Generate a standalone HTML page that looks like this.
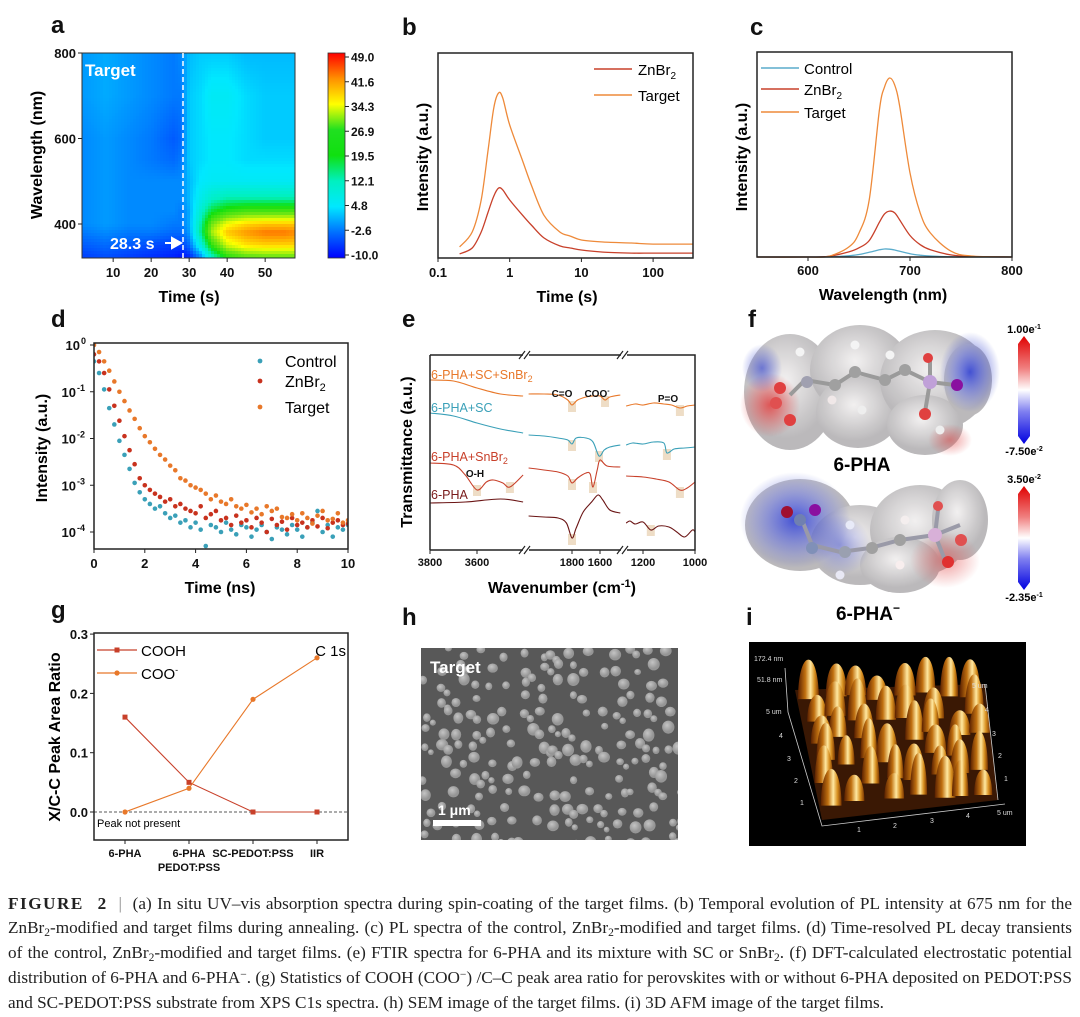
<!DOCTYPE html>
<html><head><meta charset="utf-8">
<style>
html,body{margin:0;padding:0;background:#fff;}
#root{position:relative;width:1080px;height:1017px;overflow:hidden;background:#fff;}
svg text{font-family:"Liberation Sans",Arial,sans-serif;}
.cap{position:absolute;left:8px;width:1064px;font-family:"Liberation Serif","Times New Roman",serif;font-size:17.2px;color:#222;white-space:nowrap;text-align:justify;text-align-last:justify;height:25px;line-height:25px;}
.cap sub{font-size:11.5px;vertical-align:-3px;line-height:0;}
.cap sup{font-size:11.5px;vertical-align:5px;line-height:0;}
</style></head>
<body>
<div id="root">
<svg id="fig" width="1080" height="890" viewBox="0 0 1080 890" xmlns="http://www.w3.org/2000/svg" style="position:absolute;left:0;top:0">
<defs>
 <linearGradient id="cbarA" x1="0" y1="0" x2="0" y2="1">
  <stop offset="0" stop-color="#ff0000"/><stop offset="0.125" stop-color="#ff9000"/>
  <stop offset="0.25" stop-color="#ffff00"/><stop offset="0.375" stop-color="#20e020"/>
  <stop offset="0.5" stop-color="#10e010"/><stop offset="0.625" stop-color="#00f0c0"/>
  <stop offset="0.75" stop-color="#00e8ff"/><stop offset="0.875" stop-color="#0070ff"/>
  <stop offset="1" stop-color="#0000ff"/>
 </linearGradient>
 <linearGradient id="esp" x1="0" y1="0" x2="0" y2="1">
  <stop offset="0" stop-color="#e00000"/><stop offset="0.3" stop-color="#f08080"/>
  <stop offset="0.5" stop-color="#ffffff"/><stop offset="0.7" stop-color="#8080f0"/>
  <stop offset="1" stop-color="#0000e0"/>
 </linearGradient>
 <radialGradient id="redGlow"><stop offset="0" stop-color="#e04040" stop-opacity="0.85"/><stop offset="1" stop-color="#e04040" stop-opacity="0"/></radialGradient>
 <radialGradient id="blueGlow"><stop offset="0" stop-color="#3040d0" stop-opacity="0.9"/><stop offset="1" stop-color="#3040d0" stop-opacity="0"/></radialGradient>
 <radialGradient id="blob" cx="0.45" cy="0.4"><stop offset="0" stop-color="#f2f0f0"/><stop offset="1" stop-color="#b8b6b8"/></radialGradient>
 <radialGradient id="semDot" cx="0.4" cy="0.35"><stop offset="0" stop-color="#c4c4c4"/><stop offset="1" stop-color="#959595"/></radialGradient>
 <linearGradient id="peakG" x1="0" y1="0" x2="1" y2="0">
  <stop offset="0" stop-color="#5a2000"/><stop offset="0.35" stop-color="#c07010"/>
  <stop offset="0.6" stop-color="#ffe8a0"/><stop offset="0.8" stop-color="#d89020"/>
  <stop offset="1" stop-color="#7a3500"/>
 </linearGradient>
 <clipPath id="clipA"><rect x="82" y="53" width="213" height="205"/></clipPath>
 <clipPath id="clipD"><rect x="94" y="343" width="254" height="206"/></clipPath>
 <clipPath id="clipH"><rect x="421" y="648" width="257" height="192"/></clipPath>
</defs>

<g font-weight="bold" font-size="24" fill="#111">
 <text x="51" y="33">a</text><text x="402" y="35">b</text><text x="750" y="35">c</text>
 <text x="51" y="327">d</text><text x="402" y="327">e</text><text x="748" y="327">f</text>
 <text x="51" y="618">g</text><text x="402" y="625">h</text><text x="746" y="625">i</text>
</g>

<!-- Panel a -->
<g id="pa">
 <g id="heat" clip-path="url(#clipA)"></g>
 <rect x="82" y="53" width="213" height="205" fill="none" stroke="#333" stroke-width="1"/>
 <line x1="183" y1="53" x2="183" y2="258" stroke="#fff" stroke-width="1.5" stroke-dasharray="5,3"/>
 <text x="85" y="76" fill="#fff" font-size="17" font-weight="bold">Target</text>
 <text x="110" y="249" fill="#fff" font-size="16" font-weight="bold">28.3 s</text>
 <path d="M165 243 L176 243 M172 238 L181 243 L172 248 Z" stroke="#fff" fill="#fff" stroke-width="2"/>
 <g id="axA" font-size="13" font-weight="bold" fill="#111"></g>
 <text transform="translate(42,155) rotate(-90)" text-anchor="middle" font-size="16" font-weight="bold">Wavelength (nm)</text>
 <text x="189" y="302" text-anchor="middle" font-size="16" font-weight="bold">Time (s)</text>
 <rect x="328" y="53" width="17" height="205" fill="url(#cbarA)" stroke="#333" stroke-width="0.8"/>
 <g id="cbA" font-size="12" font-weight="bold" fill="#111"></g>
</g>

<!-- Panel b -->
<g id="pb">
 <g id="axB" font-size="13" font-weight="bold" fill="#111"></g>
 <g id="linesB"></g>
 <rect x="438" y="53" width="255" height="205" fill="none" stroke="#222" stroke-width="1.5"/>
 <text transform="translate(428,157) rotate(-90)" text-anchor="middle" font-size="16" font-weight="bold">Intensity (a.u.)</text>
 <text x="567" y="302" text-anchor="middle" font-size="16" font-weight="bold">Time (s)</text>
 <g font-size="15">
  <line x1="594" y1="69" x2="632" y2="69" stroke="#c8402a" stroke-width="1.5"/>
  <text x="638" y="75">ZnBr<tspan font-size="10" dy="4">2</tspan></text>
  <line x1="594" y1="95" x2="632" y2="95" stroke="#ee8a3a" stroke-width="1.5"/>
  <text x="638" y="101">Target</text>
 </g>
</g>

<!-- Panel c -->
<g id="pc">
 <g id="axC" font-size="13" font-weight="bold" fill="#111"></g>
 <g id="linesC"></g>
 <rect x="757" y="52" width="255" height="205" fill="none" stroke="#222" stroke-width="1.5"/>
 <text transform="translate(747,157) rotate(-90)" text-anchor="middle" font-size="16" font-weight="bold">Intensity (a.u.)</text>
 <text x="883" y="300" text-anchor="middle" font-size="16" font-weight="bold">Wavelength (nm)</text>
 <g font-size="15">
  <line x1="761" y1="68" x2="799" y2="68" stroke="#5aaccc" stroke-width="1.5"/>
  <text x="804" y="74">Control</text>
  <line x1="761" y1="89" x2="799" y2="89" stroke="#c8402a" stroke-width="1.5"/>
  <text x="804" y="95">ZnBr<tspan font-size="10" dy="4">2</tspan></text>
  <line x1="761" y1="112" x2="799" y2="112" stroke="#ee8a3a" stroke-width="1.5"/>
  <text x="804" y="118">Target</text>
 </g>
</g>

<!-- Panel d -->
<g id="pd">
 <g id="axD" font-size="13" font-weight="bold" fill="#111"></g>
 <g id="dotsD" clip-path="url(#clipD)"></g>
 <rect x="94" y="343" width="254" height="206" fill="none" stroke="#222" stroke-width="1.5"/>
 <text transform="translate(47,448) rotate(-90)" text-anchor="middle" font-size="16" font-weight="bold">Intensity (a.u.)</text>
 <text x="220" y="593" text-anchor="middle" font-size="16" font-weight="bold">Time (ns)</text>
 <g font-size="16">
  <circle cx="260" cy="361" r="2.4" fill="#3aa0b8"/>
  <text x="285" y="367">Control</text>
  <circle cx="260" cy="381" r="2.4" fill="#c8321e"/>
  <text x="285" y="387">ZnBr<tspan font-size="11" dy="4">2</tspan></text>
  <circle cx="260" cy="407" r="2.4" fill="#e8782a"/>
  <text x="285" y="413">Target</text>
 </g>
</g>

<!-- Panel e -->
<g id="pe">
 <g id="boxesE"></g>
 <g id="linesE"></g>
 <path d="M430 355 H523 M529 355 H621 M627 355 H695 V550 H627 M621 550 H529 M523 550 H430 Z" fill="none" stroke="#222" stroke-width="1.5"/>
 <line x1="430" y1="355" x2="430" y2="550" stroke="#222" stroke-width="1.5"/>
 <g stroke="#222" stroke-width="1.2">
  <path d="M519 359 L525 351 M524 359 L530 351 M617 359 L623 351 M622 359 L628 351"/>
  <path d="M519 554 L525 546 M524 554 L530 546 M617 554 L623 546 M622 554 L628 546"/>
 </g>
 <g id="axE" font-size="11" font-weight="bold" fill="#111"></g>
 <text transform="translate(412,452) rotate(-90)" text-anchor="middle" font-size="16" font-weight="bold">Transmittance (a.u.)</text>
 <text x="562" y="593" text-anchor="middle" font-size="16" font-weight="bold">Wavenumber (cm<tspan font-size="11" dy="-6">-1</tspan><tspan dy="6">)</tspan></text>
 <g font-size="12.5">
  <text x="431" y="379" fill="#e8782a">6-PHA+SC+SnBr<tspan font-size="9" dy="3">2</tspan></text>
  <text x="431" y="412" fill="#3aa0b8">6-PHA+SC</text>
  <text x="431" y="461" fill="#c8402a">6-PHA+SnBr<tspan font-size="9" dy="3">2</tspan></text>
  <text x="431" y="499" fill="#7a1a1a">6-PHA</text>
 </g>
 <g font-size="10" font-weight="bold" fill="#111">
  <text x="475" y="477" text-anchor="middle">O-H</text>
  <text x="562" y="397" text-anchor="middle">C=O</text>
  <text x="597" y="397" text-anchor="middle">COO<tspan font-size="7" dy="-4">-</tspan></text>
  <text x="668" y="402" text-anchor="middle">P=O</text>
 </g>
</g>

<!-- Panel f -->
<g id="pf">
 <g>
  <g fill="url(#blob)" opacity="0.95">
   <ellipse cx="790" cy="392" rx="46" ry="58"/><ellipse cx="860" cy="370" rx="50" ry="45"/>
   <ellipse cx="858" cy="412" rx="42" ry="36"/><ellipse cx="935" cy="380" rx="55" ry="50"/>
   <ellipse cx="925" cy="425" rx="38" ry="30"/><ellipse cx="968" cy="380" rx="24" ry="36"/>
  </g>
  <ellipse cx="770" cy="405" rx="30" ry="32" fill="url(#redGlow)"/>
  <ellipse cx="970" cy="372" rx="30" ry="40" fill="url(#blueGlow)"/>
  <ellipse cx="762" cy="368" rx="20" ry="24" fill="url(#blueGlow)" opacity="0.7"/>
  <ellipse cx="950" cy="440" rx="22" ry="16" fill="url(#redGlow)" opacity="0.6"/>
  <g stroke="#9a9a9a" stroke-width="4" fill="none"><path d="M790 395 L805 380 L835 385 L855 372 L885 380 L905 370 L930 382 L955 385"/><path d="M930 382 L925 412 M930 382 L930 360"/></g>
  <g><circle cx="780" cy="388" r="6" fill="#e04040"/><circle cx="776" cy="403" r="6" fill="#e05050"/><circle cx="790" cy="420" r="6" fill="#e04040"/>
   <circle cx="807" cy="382" r="6" fill="#a0a0b0"/><circle cx="835" cy="385" r="6" fill="#a0a0a0"/><circle cx="855" cy="372" r="6" fill="#a0a0a0"/>
   <circle cx="885" cy="380" r="6" fill="#a0a0a0"/><circle cx="905" cy="370" r="6" fill="#a0a0a0"/><circle cx="930" cy="382" r="7" fill="#c0a0d8"/>
   <circle cx="957" cy="385" r="6" fill="#8a10a0"/><circle cx="928" cy="358" r="5" fill="#e04040"/><circle cx="925" cy="414" r="6" fill="#e04040"/>
   <circle cx="800" cy="352" r="4.5" fill="#f4f4f4"/><circle cx="855" cy="345" r="4.5" fill="#f4f4f4"/><circle cx="890" cy="355" r="4.5" fill="#f4f4f4"/>
   <circle cx="832" cy="400" r="4.5" fill="#f0e8e8"/><circle cx="862" cy="410" r="4.5" fill="#eee"/><circle cx="940" cy="430" r="4.5" fill="#eee"/></g>
  <text x="862" y="471" text-anchor="middle" font-size="19" font-weight="bold">6-PHA</text>
 </g>
 <g>
  <g fill="url(#blob)" opacity="0.95">
   <ellipse cx="800" cy="525" rx="55" ry="46"/><ellipse cx="860" cy="545" rx="50" ry="40"/>
   <ellipse cx="920" cy="530" rx="50" ry="45"/><ellipse cx="960" cy="520" rx="28" ry="40"/><ellipse cx="900" cy="565" rx="40" ry="28"/>
  </g>
  <ellipse cx="795" cy="520" rx="55" ry="48" fill="url(#blueGlow)"/>
  <ellipse cx="840" cy="545" rx="30" ry="30" fill="url(#blueGlow)" opacity="0.5"/>
  <ellipse cx="945" cy="560" rx="35" ry="28" fill="url(#redGlow)" opacity="0.6"/>
  <g stroke="#9a9aa8" stroke-width="4" fill="none"><path d="M800 515 L812 545 L840 552 L870 548 L900 540 L935 535"/><path d="M935 535 L945 560 M935 535 L960 525 M935 535 L938 510"/></g>
  <g><circle cx="787" cy="512" r="6" fill="#a01030"/><circle cx="815" cy="510" r="6" fill="#8a10a0"/><circle cx="800" cy="520" r="6" fill="#7080b0"/>
   <circle cx="812" cy="548" r="6" fill="#8090b8"/><circle cx="845" cy="552" r="6" fill="#9aa0b0"/><circle cx="872" cy="548" r="6" fill="#a0a0a0"/>
   <circle cx="900" cy="540" r="6" fill="#a0a0a0"/><circle cx="935" cy="535" r="7" fill="#d8b0d8"/><circle cx="938" cy="506" r="5" fill="#e05050"/>
   <circle cx="961" cy="540" r="6" fill="#e05050"/><circle cx="948" cy="562" r="6" fill="#e03030"/>
   <circle cx="850" cy="525" r="4.5" fill="#e8eaf8"/><circle cx="905" cy="520" r="4.5" fill="#f4eeee"/><circle cx="840" cy="575" r="4.5" fill="#e8e8f4"/><circle cx="900" cy="565" r="4.5" fill="#f8eeee"/></g>
 </g>
 <g>
  <polygon points="1024,336 1030,344 1030,436 1024,444 1018,436 1018,344" fill="url(#esp)"/>
  <polygon points="1024,486 1030,494 1030,582 1024,590 1018,582 1018,494" fill="url(#esp)"/>
  <g font-size="11" font-weight="bold" text-anchor="middle">
   <text x="1024" y="333">1.00e<tspan font-size="7" dy="-4">-1</tspan></text>
   <text x="1024" y="455">-7.50e<tspan font-size="7" dy="-4">-2</tspan></text>
   <text x="1024" y="483">3.50e<tspan font-size="7" dy="-4">-2</tspan></text>
   <text x="1024" y="601">-2.35e<tspan font-size="7" dy="-4">-1</tspan></text>
  </g>
 </g>
 <text x="868" y="620" text-anchor="middle" font-size="19" font-weight="bold">6-PHA<tspan font-size="12" dy="-8">−</tspan></text>
</g>

<!-- Panel g -->
<g id="pg">
 <g id="axG" font-size="13" font-weight="bold" fill="#111"></g>
 <line x1="94" y1="812" x2="348" y2="812" stroke="#222" stroke-width="0.8" stroke-dasharray="3,2"/>
 <g id="linesG"></g>
 <rect x="94" y="633" width="254" height="207" fill="none" stroke="#222" stroke-width="1.5"/>
 <text transform="translate(60,737) rotate(-90)" text-anchor="middle" font-size="16" font-weight="bold">X/C-C Peak Area Ratio</text>
 <text x="97" y="827" font-size="11">Peak not present</text>
 <text x="346" y="656" text-anchor="end" font-size="15">C 1s</text>
 <g font-size="15">
  <line x1="97" y1="650" x2="137" y2="650" stroke="#c8402a" stroke-width="1.2"/><rect x="114.5" y="647.5" width="5" height="5" fill="#c8402a"/>
  <text x="141" y="656">COOH</text>
  <line x1="97" y1="673" x2="137" y2="673" stroke="#e8782a" stroke-width="1.2"/><circle cx="117" cy="673" r="2.6" fill="#e8782a"/>
  <text x="141" y="679">COO<tspan font-size="9" dy="-6">-</tspan></text>
 </g>
</g>

<!-- Panel h -->
<g id="ph">
 <rect x="421" y="648" width="257" height="192" fill="#585858"/>
 <g id="semDots" clip-path="url(#clipH)"></g>
 <text x="430" y="673" fill="#fff" font-size="17" font-weight="bold">Target</text>
 <text x="438" y="815" fill="#fff" font-size="14" font-weight="bold">1 μm</text>
 <rect x="433" y="820" width="48" height="6" fill="#fff"/>
</g>

<!-- Panel i -->
<g id="pi">
 <rect x="749" y="642" width="277" height="204" fill="#000"/>
 <polygon points="795,690 985,684 998,800 822,820" fill="#3a1804"/>
 <g id="afmPeaks"></g>
 <g stroke="#ccc" stroke-width="0.8" fill="none">
  <path d="M785 668 L788 712 L822 826 L1005 804"/><path d="M998 800 L985 684"/>
 </g>
 <g fill="#ddd" font-size="7" font-family="Liberation Mono,monospace">
  <text x="754" y="661">172.4 nm</text><text x="757" y="682">51.8 nm</text>
  <text x="766" y="714">5 um</text><text x="779" y="738">4</text><text x="787" y="761">3</text><text x="794" y="783">2</text><text x="800" y="805">1</text>
  <text x="857" y="832">1</text><text x="893" y="828">2</text><text x="930" y="823">3</text><text x="966" y="818">4</text><text x="997" y="815">5 um</text>
  <text x="985" y="712">4</text><text x="992" y="736">3</text><text x="998" y="758">2</text><text x="1004" y="781">1</text><text x="972" y="688">5 um</text>
 </g>
</g>
</svg>

<div class="cap" style="top:891px"><b style="letter-spacing:1.5px">FIGURE&nbsp; 2</b> &nbsp;<span style="color:#888">|</span>&nbsp; (a) In situ UV–vis absorption spectra during spin-coating of the target films. (b) Temporal evolution of PL intensity at 675 nm for the</div>
<div class="cap" style="top:915px">ZnBr<sub>2</sub>-modified and target films during annealing. (c) PL spectra of the control, ZnBr<sub>2</sub>-modified and target films. (d) Time-resolved PL decay transients</div>
<div class="cap" style="top:940px">of the control, ZnBr<sub>2</sub>-modified and target films. (e) FTIR spectra for 6-PHA and its mixture with SC or SnBr<sub>2</sub>. (f) DFT-calculated electrostatic potential</div>
<div class="cap" style="top:965px">distribution of 6-PHA and 6-PHA<sup>−</sup>. (g) Statistics of COOH (COO<sup>−</sup>) /C–C peak area ratio for perovskites with or without 6-PHA deposited on PEDOT:PSS</div>
<div class="cap" style="top:990px;text-align-last:left">and SC-PEDOT:PSS substrate from XPS C1s spectra. (h) SEM image of the target films. (i) 3D AFM image of the target films.</div>
</div>

<script>
// ---------- DATA ----------
const heatTimes = [2, 8, 14, 20, 26, 28, 30, 33, 36, 40, 45, 50, 55, 58];
const heatWavelengths = [320, 350, 380, 400, 430, 460, 500, 550, 600, 700, 800];
const heatValues = [
 [-6,-5,-6,-7,-8,-9,-8,-2,10,20,24,25,25,25],
 [-4,-3,-4,-5,-6,-6,-3,8,22,32,36,37,37,37],
 [-2,-1,-2,-2,-3,-3,0,14,30,38,41,43,43,42],
 [-1,0,-1,-1,-2,-2,1,13,27,34,37,38,38,38],
 [-1,0,-1,-1,-1,-2,1,10,18,22,24,24,24,24],
 [-1,0,-1,-1,-1,-1,2,7,11,13,13,13,13,13],
 [-1,0,-1,-1,-1,-1,2,5,6,6,6,6,6,6],
 [-1,0,-1,-2,-3,-2,3,4,5,5,4,4,4,4],
 [-1,0,-1,-2,-4,-3,3,4,5,5,4,3,3,3],
 [0,1,0,-1,-2,-2,3,4,6,6,4,3,3,3],
 [0,1,0,-1,-2,-1,2,3,3,3,2,2,2,2]
];
const heatTicksX = [10, 20, 30, 40, 50];
const heatTicksY = [400, 600, 800];
const colorbarLabels = ["49.0","41.6","34.3","26.9","19.5","12.1","4.8","-2.6","-10.0"];

const bTimes = [0.2,0.3,0.4,0.5,0.6,0.7,0.8,1,1.5,2,3,5,7,10,20,50,100,360];
const bTarget = [5.4,12.7,28.3,52.7,73.2,80.5,78,64.9,47.8,35.6,20.9,12.7,10.7,8.8,7.8,7.3,6.8,6.8];
const bZnBr2 = [2,4.9,12.7,22.4,30.2,34.1,33.2,28.3,21,16.1,9.8,5.9,4.9,3.9,2.9,2.4,2.4,2.4];
const bTicks = [0.1, 1, 10, 100];

const cWavelengths = [550,600,620,640,650,660,670,675,680,685,690,700,710,720,740,760,800];
const cTarget = [0,0,0.3,4.9,11.7,27.8,71.7,82.9,87.3,83.9,73.2,41,21.5,11.7,2.9,0.5,0];
const cZnBr2 = [0,0,0.3,2.5,4.5,8,17,21,22.4,21.5,18,10.5,6,3.5,1,0.2,0];
const cControl = [0,0,0,0.6,1.2,2.3,3.5,3.9,3.8,3.4,2.8,1.6,0.9,0.5,0.1,0,0];
const cTicks = [600, 700, 800];

const dTimes = [0,0.2,0.4,0.6,0.8,1,1.2,1.4,1.6,1.8,2,2.2,2.4,2.6,2.8,3,3.2,3.4,3.6,3.8,4,4.2,4.4,4.6,4.8,5,5.2,5.4,5.6,5.8,6,6.2,6.4,6.6,6.8,7,7.2,7.4,7.6,7.8,8,8.2,8.4,8.6,8.8,9,9.2,9.4,9.6,9.8,10];
const dTargetLog = [0,-0.15,-0.35,-0.55,-0.78,-1,-1.2,-1.4,-1.58,-1.78,-1.95,-2.08,-2.22,-2.35,-2.45,-2.58,-2.68,-2.85,-2.9,-3,-3.05,-3.1,-3.18,-3.3,-3.22,-3.35,-3.4,-3.3,-3.45,-3.5,-3.42,-3.58,-3.5,-3.62,-3.45,-3.55,-3.5,-3.68,-3.7,-3.62,-3.75,-3.6,-3.7,-3.82,-3.65,-3.55,-3.75,-3.72,-3.6,-3.8,-3.75];
const dZnBr2Log = [-0.2,-0.35,-0.6,-0.95,-1.3,-1.62,-1.95,-2.25,-2.55,-2.85,-3,-3.1,-3.18,-3.25,-3.35,-3.3,-3.45,-3.4,-3.5,-3.55,-3.6,-3.45,-3.7,-3.62,-3.55,-3.75,-3.7,-3.85,-3.65,-3.8,-3.75,-3.9,-3.7,-3.8,-4,-3.72,-3.85,-3.78,-3.95,-3.7,-3.85,-3.8,-3.9,-3.75,-3.88,-3.7,-3.92,-3.8,-3.75,-3.85,-3.82];
const dControlLog = [-0.35,-0.6,-0.95,-1.35,-1.7,-2.05,-2.35,-2.65,-2.95,-3.15,-3.3,-3.4,-3.5,-3.45,-3.6,-3.7,-3.65,-3.8,-3.75,-3.9,-3.8,-3.95,-4.3,-3.85,-3.9,-4,-3.8,-3.95,-4.05,-3.85,-3.9,-4.1,-3.95,-3.85,-4,-4.15,-3.9,-3.95,-4.05,-3.85,-3.95,-4.1,-3.9,-3.8,-3.55,-4,-3.85,-4.1,-3.9,-3.95,-3.85];
const dTicksX = [0, 2, 4, 6, 8, 10];
const dTicksY = [0, -1, -2, -3, -4];

const eSeg1Ticks = [3800, 3600];
const eSeg2Ticks = [1800, 1600];
const eSeg3Ticks = [1200, 1000];
const eOrange1W = [3800,3700,3600,3500,3404], eOrange1V = [170,169,162,156,154];
const eOrange2W = [2110,2000,1900,1830,1800,1760,1700,1650,1600,1564,1530,1455], eOrange2V = [156,156,155,150,145,150,153,154,154,150,153,155];
const eOrange3W = [1265,1230,1200,1160,1120,1090,1058,1030,1000], eOrange3V = [144,146,145,147,146,145,142,144,145];
const eBlue1W = [3800,3700,3600,3500,3404], eBlue1V = [137,134,127,121,117];
const eBlue2W = [2110,2000,1900,1830,1800,1770,1700,1650,1607,1570,1530,1455], eBlue2V = [115,114,112,110,106,112,112,108,94,100,103,105];
const eBlue3W = [1265,1240,1200,1160,1120,1108,1080,1040,1000], eBlue3V = [105,107,106,108,107,97,101,102,103];
const eRed1W = [3800,3700,3650,3600,3560,3530,3490,3460,3404], eRed1V = [87,85,75,60,68,70,67,63,75];
const eRed2W = [2110,2000,1900,1830,1800,1760,1700,1670,1650,1620,1600,1550,1455], eRed2V = [82,80,78,74,67,72,77,76,63,80,90,84,83];
const eRed3W = [1265,1200,1150,1100,1058,1030,1000], eRed3V = [74,73,71,68,60,62,68];
const eDark1W = [3800,3650,3500,3404], eDark1V = [47,48,51,48];
const eDark2W = [2110,2000,1900,1840,1800,1770,1720,1660,1614,1580,1530,1455], eDark2V = [34,33,32,27,12,22,38,48,55,50,40,37];
const eDark3W = [1265,1250,1230,1200,1170,1140,1100,1070,1040,1010,1000], eDark3V = [27,29,26,28,20,24,23,18,13,20,18];
const eHighlightW = [1800,1564,1058,1800,1607,1108,3600,3460,1800,1650,1058,1800,1170];
const eHighlightV = [143,148,139,104,93,95,59,62,65,62,57,10,19];

const gCategories = ["6-PHA", "6-PHA\nPEDOT:PSS", "SC-PEDOT:PSS", "IIR"];
const gCOOH = [0.16, 0.05, 0, 0];
const gCOO = [0, 0.04, 0.19, 0.26];
const gTicks = [0.0, 0.1, 0.2, 0.3];

// ---------- HELPERS ----------
const NS = 'http://www.w3.org/2000/svg';
function mk(tag, parent, attrs) {
  const e = document.createElementNS(NS, tag);
  for (const k in attrs) e.setAttribute(k, attrs[k]);
  parent.appendChild(e);
  return e;
}
function smooth(pts) {
  let d = 'M' + pts[0][0].toFixed(1) + ',' + pts[0][1].toFixed(1);
  for (let i = 0; i < pts.length - 1; i++) {
    const p0 = pts[i - 1] || pts[i], p1 = pts[i], p2 = pts[i + 1], p3 = pts[i + 2] || p2;
    const c1 = [p1[0] + (p2[0] - p0[0]) / 6, p1[1] + (p2[1] - p0[1]) / 6];
    const c2 = [p2[0] - (p3[0] - p1[0]) / 6, p2[1] - (p3[1] - p1[1]) / 6];
    d += ' C' + c1[0].toFixed(1) + ',' + c1[1].toFixed(1) + ' ' + c2[0].toFixed(1) + ',' + c2[1].toFixed(1) + ' ' + p2[0].toFixed(1) + ',' + p2[1].toFixed(1);
  }
  return d;
}
const $ = id => document.getElementById(id);

// ---------- PANEL A ----------
const axA_x = t => 82 + (t - 1.8) * 3.8;
const axA_y = w => 53 + (800 - w) * 0.4275;
const cmapStops = [[-10,[0,0,255]],[-2.6,[0,112,255]],[4.8,[0,232,255]],[12.1,[0,240,192]],[19.5,[16,224,16]],[26.9,[110,230,20]],[34.3,[255,255,0]],[41.6,[255,144,0]],[49,[255,0,0]]];
function cmap(v) {
  if (v <= cmapStops[0][0]) return 'rgb(0,0,255)';
  for (let i = 0; i < cmapStops.length - 1; i++) {
    const a = cmapStops[i], b = cmapStops[i + 1];
    if (v <= b[0]) {
      const f = (v - a[0]) / (b[0] - a[0]);
      const c = a[1].map((x, k) => Math.round(x + (b[1][k] - x) * f));
      return 'rgb(' + c.join(',') + ')';
    }
  }
  return 'rgb(255,0,0)';
}
function findIdx(arr, v) {
  for (let i = 0; i < arr.length - 1; i++) if (v <= arr[i + 1]) return i;
  return arr.length - 2;
}
function heatAt(t, w) {
  t = Math.max(heatTimes[0], Math.min(heatTimes[heatTimes.length - 1], t));
  w = Math.max(heatWavelengths[0], Math.min(heatWavelengths[heatWavelengths.length - 1], w));
  const i = findIdx(heatTimes, t), j = findIdx(heatWavelengths, w);
  const ft = (t - heatTimes[i]) / (heatTimes[i + 1] - heatTimes[i]);
  const fw = (w - heatWavelengths[j]) / (heatWavelengths[j + 1] - heatWavelengths[j]);
  const v00 = heatValues[j][i], v01 = heatValues[j][i + 1], v10 = heatValues[j + 1][i], v11 = heatValues[j + 1][i + 1];
  return (v00 * (1 - ft) + v01 * ft) * (1 - fw) + (v10 * (1 - ft) + v11 * ft) * fw;
}
(function () {
  const g = $('heat');
  const cell = 3;
  for (let px = 82; px < 295; px += cell) {
    for (let py = 53; py < 258; py += cell) {
      const t = 1.8 + (px + cell / 2 - 82) / 3.8;
      const w = 800 - (py + cell / 2 - 53) / 0.4275;
      const r = mk('rect', g, { x: px, y: py, width: cell + 0.6, height: cell + 0.6, fill: cmap(heatAt(t, w)) });
      
      
    }
  }
  const ax = $('axA');
  heatTicksX.forEach(t => {
    const x = axA_x(t);
    const l = mk('line', ax, { x1: x, y1: 258, x2: x, y2: 262, stroke: '#222' });
    
    
    const tx = mk('text', ax, { x: x, y: 277, 'text-anchor': 'middle' });
    tx.textContent = t;
    
    
  });
  heatTicksY.forEach(w => {
    const y = axA_y(w);
    const l = mk('line', ax, { x1: 78, y1: y, x2: 82, y2: y, stroke: '#222' });
    
    
    const tx = mk('text', ax, { x: 76, y: y + 5, 'text-anchor': 'end' });
    tx.textContent = w;
    
    
  });
  const cb = $('cbA');
  colorbarLabels.forEach((lab, i) => {
    const y = 57 + i * 24.75;
    const l = mk('line', cb, { x1: 345, y1: y, x2: 349, y2: y, stroke: '#222' });
    
    
    const tx = mk('text', cb, { x: 351, y: y + 4.5 });
    tx.textContent = lab;
    
    
  });
})();

// ---------- PANEL B ----------
const axB_x = t => 438 + 71.7 * (Math.log10(t) + 1);
const axB_y = v => 258 - v * 2.05;
(function () {
  const g = $('linesB');
  const series = [[bZnBr2, '#c8402a', 'line-znbr2'], [bTarget, '#ee8a3a', 'line-target']];
  series.forEach(s => {
    const pts = bTimes.map((t, i) => [axB_x(t), axB_y(s[0][i])]);
    const p = mk('path', g, { d: smooth(pts), fill: 'none', stroke: s[1], 'stroke-width': 1.3 });
    
    
  });
  const ax = $('axB');
  bTicks.forEach(t => {
    const x = axB_x(t);
    const l = mk('line', ax, { x1: x, y1: 258, x2: x, y2: 262, stroke: '#222' });
    
    
    const tx = mk('text', ax, { x: x, y: 277, 'text-anchor': 'middle' });
    tx.textContent = t;
    
    
  });
})();

// ---------- PANEL C ----------
const axC_x = w => 757 + (w - 550) * 1.02;
const axC_y = v => 257 - v * 2.05;
(function () {
  const g = $('linesC');
  const series = [[cControl, '#5aaccc', 'line-control'], [cZnBr2, '#c8402a', 'line-znbr2'], [cTarget, '#ee8a3a', 'line-target']];
  series.forEach(s => {
    const pts = cWavelengths.map((w, i) => [axC_x(w), axC_y(s[0][i])]);
    const p = mk('path', g, { d: smooth(pts), fill: 'none', stroke: s[1], 'stroke-width': 1.3 });
    
    
  });
  const ax = $('axC');
  cTicks.forEach(w => {
    const x = axC_x(w);
    const l = mk('line', ax, { x1: x, y1: 257, x2: x, y2: 261, stroke: '#222' });
    
    
    const tx = mk('text', ax, { x: x, y: 275, 'text-anchor': 'middle' });
    tx.textContent = w;
    
    
  });
})();

// ---------- PANEL D ----------
const axD_x = t => 94 + t * 25.4;
const axD_y = lg => 345 - lg * 46.75;
(function () {
  const g = $('dotsD');
  const series = [[dControlLog, '#3aa0b8', 'dot-control'], [dZnBr2Log, '#c8321e', 'dot-znbr2'], [dTargetLog, '#e8782a', 'dot-target']];
  series.forEach(s => {
    dTimes.forEach((t, i) => {
      const c = mk('circle', g, { cx: axD_x(t), cy: axD_y(s[0][i]), r: 2.3, fill: s[1] });
      
      
    });
  });
  const ax = $('axD');
  dTicksX.forEach(t => {
    const x = axD_x(t);
    const l = mk('line', ax, { x1: x, y1: 549, x2: x, y2: 553, stroke: '#222' });
    
    
    const tx = mk('text', ax, { x: x, y: 568, 'text-anchor': 'middle' });
    tx.textContent = t;
    
    
  });
  dTicksY.forEach(lg => {
    const y = axD_y(lg);
    const l = mk('line', ax, { x1: 90, y1: y, x2: 94, y2: y, stroke: '#222' });
    
    
    const tx = mk('text', ax, { x: lg === 0 ? 80 : 76, y: y + 5, 'text-anchor': 'end' });
    tx.textContent = '10';
    
    
    const sp = mk('text', ax, { x: lg === 0 ? 81 : 77, y: y - 1, 'font-size': 9 });
    sp.textContent = String(lg);
    
    
  });
})();

// ---------- PANEL E ----------
const eX1 = w => 430 + (3800 - w) * 0.235;
const eX2 = w => 572 + (1800 - w) * 0.14;
const eX3 = w => 643 + (1200 - w) * 0.26;
const eY = v => 550 - v;
function eX(w) { return w > 2500 ? eX1(w) : (w > 1400 ? eX2(w) : eX3(w)); }
(function () {
  const hb = $('boxesE');
  eHighlightW.forEach((w, i) => {
    const r = mk('rect', hb, { x: eX(w) - 4, y: eY(eHighlightV[i]) - 6, width: 8, height: 11, fill: '#ecd9c0', opacity: 0.9 });
    
    
  });
  const g = $('linesE');
  const series = [
    [[eOrange1W, eOrange1V, eX1], [eOrange2W, eOrange2V, eX2], [eOrange3W, eOrange3V, eX3], '#e8782a', 'line-6pha-sc-snbr2'],
    [[eBlue1W, eBlue1V, eX1], [eBlue2W, eBlue2V, eX2], [eBlue3W, eBlue3V, eX3], '#3aa0b8', 'line-6pha-sc'],
    [[eRed1W, eRed1V, eX1], [eRed2W, eRed2V, eX2], [eRed3W, eRed3V, eX3], '#c8402a', 'line-6pha-snbr2'],
    [[eDark1W, eDark1V, eX1], [eDark2W, eDark2V, eX2], [eDark3W, eDark3V, eX3], '#6a1414', 'line-6pha']
  ];
  series.forEach(s => {
    for (let k = 0; k < 3; k++) {
      const seg = s[k];
      const pts = seg[0].map((w, i) => [seg[2](w), eY(seg[1][i])]);
      const p = mk('path', g, { d: smooth(pts), fill: 'none', stroke: s[3], 'stroke-width': 1.1 });
      
      
    }
  });
  const ax = $('axE');
  [[eSeg1Ticks, eX1], [eSeg2Ticks, eX2], [eSeg3Ticks, eX3]].forEach(pair => {
    pair[0].forEach(w => {
      const x = pair[1](w);
      const l = mk('line', ax, { x1: x, y1: 550, x2: x, y2: 554, stroke: '#222' });
      
      
      const tx = mk('text', ax, { x: x, y: 566, 'text-anchor': 'middle' });
      tx.textContent = w;
      
      
    });
  });
})();

// ---------- PANEL G ----------
const axG_x = i => 125 + i * 64;
const axG_y = v => 812 - v * 593;
(function () {
  const g = $('linesG');
  const cooh = gCOOH.map((v, i) => axG_x(i) + ',' + axG_y(v)).join(' ');
  const l1 = mk('polyline', g, { points: cooh, fill: 'none', stroke: '#c8402a', 'stroke-width': 1.1 });
  
  
  const coo = gCOO.map((v, i) => axG_x(i) + ',' + axG_y(v)).join(' ');
  const l2 = mk('polyline', g, { points: coo, fill: 'none', stroke: '#e8782a', 'stroke-width': 1.1 });
  
  
  gCOOH.forEach((v, i) => {
    const m = mk('rect', g, { x: axG_x(i) - 2.5, y: axG_y(v) - 2.5, width: 5, height: 5, fill: '#c8402a' });
    
    
  });
  gCOO.forEach((v, i) => {
    const m = mk('circle', g, { cx: axG_x(i), cy: axG_y(v), r: 2.6, fill: '#e8782a' });
    
    
  });
  const ax = $('axG');
  gTicks.forEach(v => {
    const y = axG_y(v);
    const l = mk('line', ax, { x1: 90, y1: y, x2: 94, y2: y, stroke: '#222' });
    
    
    const tx = mk('text', ax, { x: 88, y: y + 5, 'text-anchor': 'end' });
    tx.textContent = v.toFixed(1);
    
    
  });
  gCategories.forEach((c, i) => {
    const x = axG_x(i);
    const l = mk('line', ax, { x1: x, y1: 840, x2: x, y2: 844, stroke: '#222' });
    
    
    const parts = c.split('\n');
    parts.forEach((p, k) => {
      const tx = mk('text', ax, { x: x, y: 857 + k * 14, 'text-anchor': 'middle', 'font-size': 11 });
      tx.textContent = p;
      
      
    });
  });
})();

// ---------- PANEL H (decorative SEM texture) ----------
let seed = 12345;
function rnd() { seed = (seed * 16807) % 2147483647; return seed / 2147483647; }
(function () {
  const g = $('semDots');
  for (let gy = 0; gy < 13; gy++) {
    for (let gx = 0; gx < 17; gx++) {
      if (rnd() < 0.22) continue;
      const cx = 421 + gx * 16 + rnd() * 12;
      const cy = 648 + gy * 15.5 + rnd() * 10;
      const r = 3.4 + rnd() * 2.8;
      const d = mk('ellipse', g, { cx: cx, cy: cy, rx: r, ry: r * (0.85 + rnd() * 0.3), fill: 'url(#semDot)' });
      
      
      if (rnd() < 0.18) {
        const d2 = mk('ellipse', g, { cx: cx + 6, cy: cy + 5, rx: r * 0.8, ry: r * 0.8, fill: 'url(#semDot)' });
        
        
      }
    }
  }
})();

// ---------- PANEL I (decorative AFM peaks) ----------
(function () {
  const g = $('afmPeaks');
  const BL = [795, 690], BR = [985, 684], FL = [822, 815], FR = [998, 800];
  const rows = 6, cols = 8;
  for (let r = 0; r < rows; r++) {
    for (let c = 0; c < cols; c++) {
      if (rnd() < 0.15) continue;
      const u = (c + 0.3 + rnd() * 0.4) / cols, v = (r + 0.3 + rnd() * 0.4) / rows;
      const bx = BL[0] + (BR[0] - BL[0]) * u, by = BL[1] + (BR[1] - BL[1]) * u;
      const fx = FL[0] + (FR[0] - FL[0]) * u, fy = FL[1] + (FR[1] - FL[1]) * u;
      const x = bx + (fx - bx) * v, y = by + (fy - by) * v;
      const h = 24 + rnd() * 18, w = 16 + rnd() * 6;
      const d = `M${x - w / 2},${y} C${x - w / 2},${y - h * 0.55} ${x - w * 0.3},${y - h} ${x},${y - h} C${x + w * 0.3},${y - h} ${x + w / 2},${y - h * 0.55} ${x + w / 2},${y} Z`;
      const p = mk('path', g, { d: d, fill: 'url(#peakG)' });
      
      
    }
  }
})();
</script>
</body></html>
